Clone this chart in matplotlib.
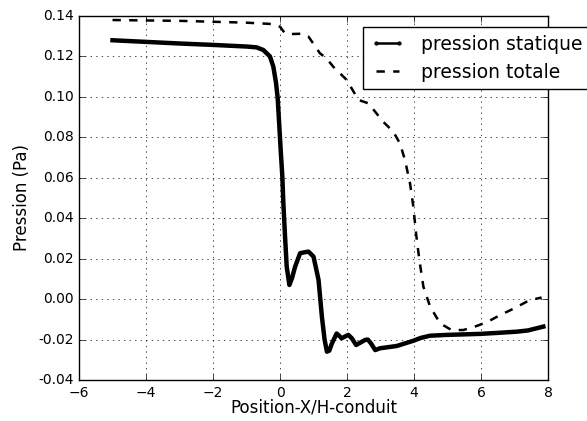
import matplotlib
matplotlib.use("Agg")
import matplotlib.pyplot as plt
from matplotlib.lines import Line2D

# pression statique
x_stat = [-5.0, -4.0, -3.0, -2.0, -1.0, -0.7, -0.5, -0.3, -0.2, -0.12, -0.07, -0.02,
          0.02, 0.07, 0.1, 0.15, 0.2, 0.28, 0.36, 0.45, 0.6, 0.75, 0.85, 1.0, 1.15,
          1.25, 1.33, 1.4, 1.47, 1.55, 1.69, 1.77, 1.84, 1.94, 2.04, 2.15, 2.27,
          2.4, 2.54, 2.62, 2.72, 2.84, 2.99, 3.48, 3.98, 4.2, 4.48, 4.98, 5.97,
          6.5, 7.07, 7.4, 7.86]
p_stat = [0.128, 0.1272, 0.1264, 0.1257, 0.1249, 0.1245, 0.1232, 0.12, 0.115,
          0.107, 0.0995, 0.0853, 0.0737, 0.0605, 0.0474, 0.0309, 0.016, 0.007,
          0.0105, 0.016, 0.0227, 0.0232, 0.0235, 0.021, 0.0095, -0.0087, -0.02,
          -0.026, -0.0255, -0.0219, -0.017, -0.0182, -0.0194, -0.0185, -0.0177,
          -0.0195, -0.0227, -0.0215, -0.0202, -0.02, -0.022, -0.0252, -0.0243,
          -0.0232, -0.0206, -0.0192, -0.0181, -0.0177, -0.0172, -0.0167, -0.0161,
          -0.0155, -0.0136]

# pression totale
x_tot = [-5.0, -4.0, -3.0, -2.09, -1.0, -0.2, 0.0, 0.15, 0.35, 0.6, 0.7, 0.85,
         1.19, 1.39, 1.59, 1.99, 2.34, 2.64, 3.08, 3.38, 3.58, 3.73, 3.88, 3.98,
         4.06, 4.16, 4.28, 4.48, 4.78, 5.12, 5.47, 5.87, 6.2, 6.57, 7.0, 7.36,
         7.6, 7.81]
p_tot = [0.138, 0.1378, 0.1376, 0.1372, 0.1367, 0.136, 0.1347, 0.1314, 0.1311,
         0.1312, 0.1311, 0.1298, 0.1216, 0.119, 0.1149, 0.1084, 0.0985, 0.0968,
         0.0877, 0.0828, 0.077, 0.0688, 0.0573, 0.0457, 0.0325, 0.0194, 0.0061,
         -0.0037, -0.012, -0.0153, -0.0153, -0.0133, -0.0112, -0.0079, -0.0045,
         -0.0013, 0.0, 0.0008]

plt.style.use('classic')
fig = plt.figure(figsize=(5.87, 4.21), dpi=100)
fig.patch.set_facecolor('white')
ax = fig.add_axes([0.1346, 0.0974, 0.799, 0.8646])

ax.plot(x_stat, p_stat, 'k-', lw=3.2, solid_joinstyle='round')
ax.plot(x_tot, p_tot, 'k--', lw=1.8)

ax.set_xlim(-6, 8)
ax.set_ylim(-0.04, 0.14)
ax.set_xticks(range(-6, 9, 2))
ax.set_yticks([-0.04 + 0.02 * i for i in range(10)])
ax.set_yticklabels(['%.2f' % (-0.04 + 0.02 * i) for i in range(10)])
ax.tick_params(labelsize=10)
ax.set_xlabel('Position-X/H-conduit', fontsize=12, labelpad=-1)
ax.set_ylabel('Pression (Pa)', fontsize=12)
ax.grid(True)

handles = [Line2D([], [], color='k', lw=1.8, marker='.', ms=5),
           Line2D([], [], color='k', ls='--', lw=1.8)]
ax.legend(handles, ['pression statique', 'pression totale'],
          loc='upper left', bbox_to_anchor=(363 / 587, 1 - 27 / 421),
          bbox_transform=fig.transFigure, fontsize=13.5, numpoints=2,
          handlelength=1.8, handletextpad=0.9, borderaxespad=0)

fig.savefig('out.png', dpi=100, facecolor='white')
